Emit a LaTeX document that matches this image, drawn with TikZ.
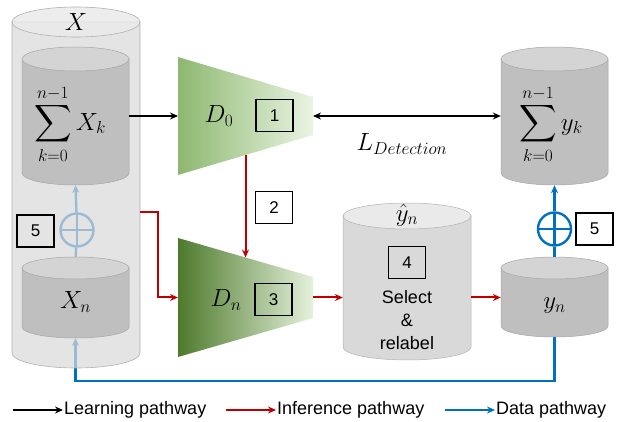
\documentclass[tikz,border=0pt]{standalone}
\usepackage{amsmath, amssymb}
\usepackage{fontspec}
\setmainfont{Liberation Sans}
\usetikzlibrary{arrows.meta,calc}

\definecolor{infcol}{HTML}{C00000}
\definecolor{datacol}{HTML}{0070C0}
\definecolor{drumbody}{HTML}{BFBFBF}
\definecolor{drumlid}{HTML}{D4D4D4}
\definecolor{poolbody}{HTML}{D9D9D9}
\definecolor{poollid}{HTML}{EAEAEA}
\definecolor{dzeroleft}{HTML}{8DB870}
\definecolor{dzeroright}{HTML}{EAF4E3}
\definecolor{dnleft}{HTML}{4E7A2C}
\definecolor{dnright}{HTML}{E4F1DB}

% drum: name, centre x, x radius, lid y, base y, y radius, body style, lid style
\newcommand{\drum}[8]{%
\filldraw[#7] (#2-#3,#4) -- (#2-#3,#5) arc[start angle=180,end angle=360,x radius=#3,y radius=#6] -- (#2+#3,#4) -- cycle;
\filldraw[#8] (#2,#4) ellipse[x radius=#3,y radius=#6];
\node[inner sep=0pt,minimum width={2*#3},minimum height={#4-#5+2*#6}] (#1) at (#2,{(#4+#5)/2}) {};
}

\tikzset{
tip/.style={-{Stealth[length=8pt,width=7pt]}},
learn/.style={tip,black,line width=2.2pt},
infer/.style={tip,infcol,line width=2pt},
data/.style={tip,datacol,line width=2.4pt},
numbox/.style={draw,line width=1.1pt,minimum width=37pt,minimum height=32pt,inner sep=0pt,font=\fontsize{17}{20}\selectfont},
mathlbl/.style={font=\fontsize{26}{30}\selectfont},
summer/.style={circle,draw=datacol,line width=2.4pt,fill=white,minimum size=33pt,inner sep=0pt,
  path picture={\draw[datacol,line width=2.4pt] (path picture bounding box.north) -- (path picture bounding box.south) (path picture bounding box.west) -- (path picture bounding box.east);}}
}

\begin{document}
\begin{tikzpicture}[x=1pt,y=1pt]
\useasboundingbox (0,0) rectangle (622,421);

\draw[data] (554.5,84) coordinate (ynbase) -- ++(0,-44) -| (75.5,83) coordinate (xnbase);
\node[summer] (plusl) at (77,191) {};
\draw[datacol,line width=2.4pt] (75.5,160) -- (plusl);
\draw[data] (plusl) -- (75.5,236);

\drum{xall}{76}{64}{399}{68}{15}{fill=poolbody,draw=gray!60,line width=0.6pt,fill opacity=0.72}{fill=poollid,draw=gray!60,line width=0.6pt,fill opacity=0.85}
\drum{sxk}{75.5}{53.5}{362}{248}{12}{fill=drumbody,draw=gray!70,line width=0.5pt}{fill=drumlid,draw=gray!70,line width=0.5pt}
\drum{xn}{75.5}{53.5}{153}{94}{11}{fill=drumbody,draw=gray!70,line width=0.5pt}{fill=drumlid,draw=gray!70,line width=0.5pt}
\drum{syk}{554.5}{53.5}{362}{248}{12}{fill=drumbody,draw=gray!70,line width=0.5pt}{fill=drumlid,draw=gray!70,line width=0.5pt}
\drum{yn}{554.5}{53.5}{153}{95}{11}{fill=drumbody,draw=gray!70,line width=0.5pt}{fill=drumlid,draw=gray!70,line width=0.5pt}
\drum{yhat}{407}{64}{205}{74}{13}{fill=poolbody,draw=gray!60,line width=0.5pt}{fill=poollid,draw=gray!60,line width=0.5pt}

\coordinate (d0a) at (178,364); \coordinate (d0b) at (313,324);
\coordinate (d0c) at (313,286); \coordinate (d0d) at (178,246);
\shade[left color=dzeroleft,right color=dzeroright] (d0a) -- (d0b) -- (d0c) -- (d0d) -- cycle;
\coordinate (dna) at (178,183); \coordinate (dnb) at (313,144);
\coordinate (dnc) at (313,103); \coordinate (dnd) at (178,64);
\shade[left color=dnleft,right color=dnright] (dna) -- (dnb) -- (dnc) -- (dnd) -- cycle;

\node[mathlbl] (lx) at (76,399) {$X$};
\node[mathlbl] (lsxk) at (70,297) {$\displaystyle\sum_{k=0}^{n-1} X_k$};
\node[mathlbl] (lxn) at (75.5,119) {$X_n$};
\node[mathlbl] (lsyk) at (551,297) {$\displaystyle\sum_{k=0}^{n-1} y_k$};
\node[mathlbl] (lyn) at (554.5,115) {$y_n$};
\node[mathlbl] (lyhat) at (407,206) {$\hat{y}_n$};
\node[mathlbl] (ld0) at (219,305) {$D_0$};
\node[mathlbl] (ldn) at (226,121) {$D_n$};
\node[mathlbl] (lloss) at (402,277) {$L_{Detection}$};
\node[align=center,font=\fontsize{18}{23}\selectfont] (lsel) at (407,101) {Select\\\&\\relabel};

\node[numbox] (b1) at (274.5,305.5) {1};
\node[numbox] (b2) at (274,213.5) {2};
\node[numbox] (b3) at (273.5,121.5) {3};
\node[numbox] (b4) at (407,158.5) {4};
\node[numbox] (b5l) at (35.5,190) {5};
\node[numbox] (b5r) at (594.5,192) {5};

\node[summer] (plusr) at (554.5,192) {};
\draw[datacol,line width=2.4pt] (yn.north) -- (plusr);
\draw[data] (plusr) -- (syk.south);

\coordinate (d0tip) at ($(d0b)!0.5!(d0c)$);
\coordinate (dnin) at ($(dna)!0.5!(dnd)$);
\coordinate (dnout) at ($(dnb)!0.5!(dnc)$);
\draw[learn] (sxk.east) -- (sxk.east -| d0a);
\draw[learn,{Stealth[length=8pt,width=7pt]}-{Stealth[length=8pt,width=7pt]}] (d0tip) -- (d0tip -| syk.west);
\draw[infer] ($(d0d)!0.5!(d0c)$) -- ($(dna)!0.5!(dnb)$);
\draw[infer] (140,209) coordinate (xout) -- ++(18,0) |- (dnin);
\draw[infer] (dnout) -- (dnout -| yhat.west);
\draw[infer] (yhat.east |- dnout) -- (yn.west |- dnout);

\foreach \st/\x/\txt in {learn/13/Learning pathway, infer/226/Inference pathway, data/445/Data pathway}{
\node[anchor=west,inner sep=1pt,font=\fontsize{18}{20}\selectfont] (lg\x) at (\x+50,11) {\txt};
\draw[\st] (\x,11) -- (lg\x.west);
}
\end{tikzpicture}
\end{document}
